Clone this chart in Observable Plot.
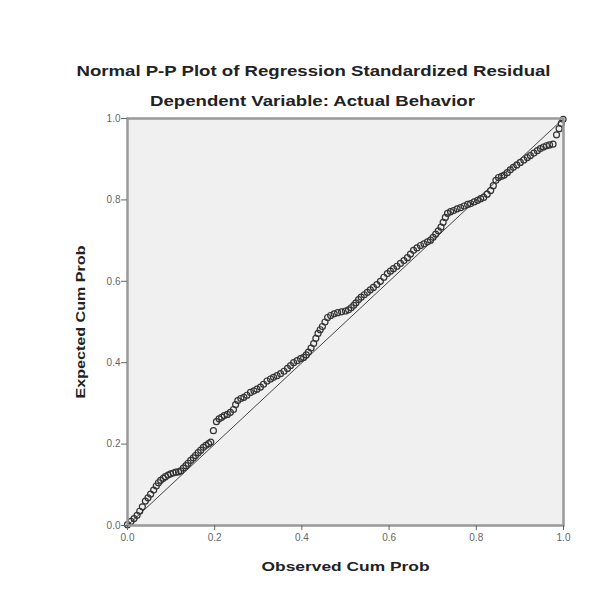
<!DOCTYPE html>
<html>
<head>
<meta charset="utf-8">
<script src="https://cdn.jsdelivr.net/npm/d3@7"></script>
<script src="https://cdn.jsdelivr.net/npm/@observablehq/plot@0.6"></script>
<style>
  body { margin: 0; background: #fff; font-family: Arial, "Liberation Sans", sans-serif; }
  #wrap { position: relative; width: 601px; height: 590px; }
  #head { position: relative; width: 601px; height: 110px; }
  .t { position: absolute; left: 0; width: 601px; text-align: center; font-weight: bold; color: #222; font-size: 15.5px; white-space: nowrap; transform: scaleX(1.2); transform-origin: 50% 50%; }
  #t1 { top: 62px; left: 13px; }
  #t2 { top: 92px; left: 12px; }
  svg { display: block; }
</style>
</head>
<body>
<div id="wrap">
  <div id="head">
    <div class="t" id="t1"></div>
    <div class="t" id="t2"></div>
  </div>
  <div id="chart"></div>
</div>
<script>
const title = "Normal P-P Plot of Regression Standardized Residual";
const subtitle = "Dependent Variable: Actual Behavior";
const xLabel = "Observed Cum Prob";
const yLabel = "Expected Cum Prob";
const tickValues = [0, 0.2, 0.4, 0.6, 0.8, 1.0];
const refLine = [0, 1];

const observed = [
0.000,0.008,0.015,0.022,0.028,0.034,0.041,0.047,0.053,0.060,
0.066,0.071,0.076,0.082,0.087,0.093,0.099,0.105,0.111,0.117,
0.122,0.128,0.134,0.139,0.145,0.151,0.156,0.162,0.168,0.174,
0.180,0.186,0.191,0.197,0.204,0.210,0.216,0.222,0.229,0.236,
0.243,0.248,0.253,0.260,0.267,0.274,0.282,0.290,0.297,0.305,
0.312,0.320,0.328,0.335,0.343,0.351,0.359,0.367,0.374,0.381,
0.389,0.397,0.404,0.410,0.415,0.421,0.427,0.432,0.437,0.442,
0.447,0.453,0.459,0.466,0.474,0.482,0.491,0.500,0.507,0.513,
0.519,0.524,0.530,0.536,0.543,0.550,0.557,0.564,0.572,0.580,
0.588,0.596,0.603,0.610,0.618,0.626,0.634,0.642,0.649,0.656,
0.664,0.672,0.680,0.688,0.695,0.701,0.707,0.713,0.719,0.724,
0.729,0.734,0.741,0.748,0.756,0.764,0.772,0.780,0.787,0.795,
0.803,0.810,0.817,0.825,0.833,0.839,0.845,0.851,0.858,0.864,
0.871,0.878,0.885,0.893,0.901,0.909,0.917,0.924,0.932,0.940,
0.947,0.954,0.961,0.968,0.976,0.984,0.990,0.995,0.999
];
const expected = [
0.002,0.010,0.017,0.025,0.035,0.046,0.060,0.068,0.077,0.087,
0.097,0.105,0.111,0.116,0.120,0.124,0.127,0.129,0.131,0.132,
0.134,0.141,0.147,0.153,0.160,0.166,0.172,0.179,0.185,0.192,
0.197,0.201,0.205,0.233,0.255,0.262,0.266,0.270,0.273,0.278,
0.285,0.297,0.307,0.312,0.315,0.320,0.327,0.331,0.335,0.340,
0.347,0.355,0.360,0.364,0.368,0.373,0.379,0.386,0.393,0.400,
0.405,0.410,0.413,0.419,0.426,0.436,0.447,0.460,0.472,0.481,
0.489,0.500,0.511,0.516,0.520,0.523,0.525,0.527,0.530,0.535,
0.541,0.547,0.555,0.561,0.567,0.573,0.579,0.585,0.592,0.600,
0.610,0.619,0.625,0.631,0.637,0.644,0.651,0.658,0.667,0.676,
0.682,0.688,0.692,0.697,0.701,0.708,0.716,0.724,0.733,0.745,
0.757,0.767,0.771,0.774,0.778,0.781,0.785,0.789,0.791,0.795,
0.799,0.803,0.806,0.814,0.823,0.835,0.848,0.855,0.858,0.861,
0.867,0.874,0.880,0.886,0.892,0.898,0.904,0.909,0.915,0.921,
0.926,0.930,0.933,0.935,0.937,0.960,0.975,0.988,0.998
];

document.getElementById("t1").textContent = title;
document.getElementById("t2").textContent = subtitle;

const points = observed.map((x, i) => ({x, y: expected[i]}));
const diag = refLine.map(v => ({x: v, y: v}));

const chart = Plot.plot({
  width: 601,
  height: 480,
  marginTop: 8,
  marginBottom: 65,
  marginLeft: 127,
  marginRight: 38,
  style: {fontFamily: "Arial, 'Liberation Sans', sans-serif", fontSize: "10px", color: "#666", background: "#fff"},
  x: {domain: [0, 1]},
  y: {domain: [0, 1]},
  marks: [
    Plot.frame({fill: "#f0f0f0", stroke: null}),
    Plot.line(diag, {x: "x", y: "y", stroke: "#444", strokeWidth: 1}),
    Plot.dot(points, {x: "x", y: "y", r: 3, stroke: "#333", strokeWidth: 1.2, fill: "none"}),
    Plot.frame({stroke: "#999", strokeWidth: 2.5}),
    Plot.axisX(tickValues, {tickFormat: d3.format(".1f"), tickSize: 5, tickPadding: 3, stroke: "#666", label: null}),
    Plot.axisY(tickValues, {tickFormat: d3.format(".1f"), tickSize: 6, tickPadding: 1, stroke: "#666", label: null}),
    Plot.text([xLabel], {frameAnchor: "bottom", dy: 41, fontSize: 13.5, fontWeight: "bold", fill: "#222", lineAnchor: "middle", textAnchor: "middle", className: "xlab"}),
    Plot.text([yLabel], {frameAnchor: "left", dx: -47, rotate: -90, fontSize: 13.5, fontWeight: "bold", fill: "#222", lineAnchor: "middle", textAnchor: "middle", className: "ylab"})
  ]
});
d3.select(chart).selectAll(".xlab text").attr("textLength", 168).attr("lengthAdjust", "spacingAndGlyphs");
d3.select(chart).selectAll(".ylab text").attr("textLength", 153).attr("lengthAdjust", "spacingAndGlyphs");
document.getElementById("chart").appendChild(chart);
</script>
</body>
</html>
